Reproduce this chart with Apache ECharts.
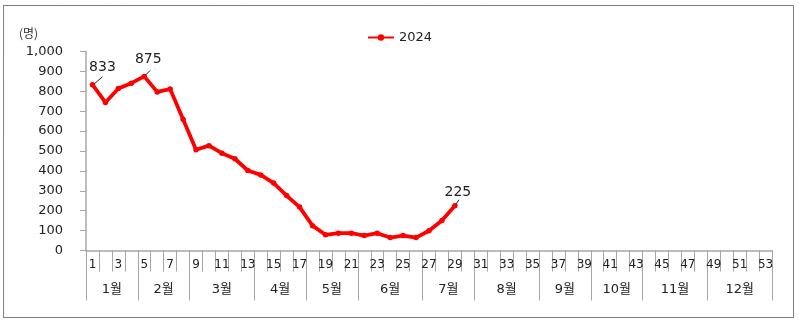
<!DOCTYPE html>
<html><head><meta charset="utf-8">
<script src="https://cdn.jsdelivr.net/npm/echarts@6/dist/echarts.min.js"></script>
<style>html,body{margin:0;padding:0;background:#fff}#c{width:799px;height:322px}</style>
</head><body><div id="c"></div>
<script>
const weeks = Array.from({length:53},(_,i)=>String(i+1));
const seriesName = '2024';
const values2024 = [833,744,814,841,875,797,811,660,506,527,489,461,402,380,339,276,218,125,79,87,87,75,87,65,75,65,99,151,225];
const labeledWeeks = [1,5,29];
const monthNames = ['1월','2월','3월','4월','5월','6월','7월','8월','9월','10월','11월','12월'];
const monthWeekCounts = [4,4,5,4,4,5,4,5,4,4,5,5];
const yTicks = [0,100,200,300,400,500,600,700,800,900,1000];
const unitLabel = '(명)';

const numFont = 'DejaVu Sans, Noto Sans CJK KR, sans-serif';
const boundaries = [0.5]; const centers = [];
monthWeekCounts.forEach(c=>{const s=boundaries[boundaries.length-1]; centers.push(s+c/2); boundaries.push(s+c);});

const chart = echarts.init(document.getElementById('c'));
const labelOffsets = {1:[10,-3],5:[4,-2],29:[3,1]};
const leaderVec = {1:[[2,-1],[10,-8]],5:[[1,-1],[6,-6]],29:[[1,-1],[4,-6]]};
const baseGraphics = [
  {type:'rect',shape:{x:3.5,y:5.5,width:790,height:312},style:{fill:'none',stroke:'#000',lineWidth:1,lineDash:[1,1]}},
  {type:'text',left:19,top:27,style:{text:unitLabel,font:'12px Noto Sans CJK KR',fill:'#333'}}
];
chart.setOption({
  animation:false,
  legend:{data:[seriesName],top:26,left:'center',itemWidth:26,itemHeight:8,itemGap:3,
    textStyle:{fontFamily:numFont,fontSize:13,color:'#222'}},
  graphic:baseGraphics,
  grid:{left:86,right:27,top:51.5,bottom:71.5},
  xAxis:[
    {type:'category',data:weeks,boundaryGap:true,
      axisLine:{lineStyle:{color:'#A6A6A6',width:1.5}},
      axisTick:{show:true,interval:0,length:21,lineStyle:{color:'#A6A6A6'}},
      axisLabel:{interval:1,margin:8,fontFamily:numFont,fontSize:12,color:'#222'}},
    {type:'value',position:'bottom',min:0.5,max:53.5,
      axisLine:{show:false},splitLine:{show:false},
      axisTick:{show:true,length:50,customValues:boundaries,lineStyle:{color:'#A6A6A6'}},
      axisLabel:{show:true,margin:33,customValues:centers,fontFamily:numFont,fontSize:13,color:'#222',
        formatter:v=>{const i=centers.indexOf(v);return i>=0?monthNames[i]:'';}}}
  ],
  yAxis:{type:'value',min:0,max:1000,interval:100,
    axisLine:{show:true,lineStyle:{color:'#A6A6A6',width:1.5}},
    axisTick:{show:true,length:6,lineStyle:{color:'#A6A6A6'}},
    splitLine:{show:false},
    axisLabel:{margin:23,fontFamily:numFont,fontSize:13,color:'#222',
      formatter:v=>v.toLocaleString('en-US')}},
  series:[{name:seriesName,type:'line',xAxisIndex:0,
    data:values2024.map((v,i)=>{
      const w=i+1;
      if(labeledWeeks.includes(w)){
        return {value:v,label:{show:true,position:'top',offset:labelOffsets[w],fontFamily:numFont,fontSize:14,color:'#222'}};
      }
      return v;}),
    symbol:'circle',symbolSize:5.5,
    lineStyle:{color:'#FF0000',width:3.8},
    itemStyle:{color:'#FF0000'},
    label:{show:false},
    z:2
  }]
});
const leaders = labeledWeeks.map(w=>{
  const p = chart.convertToPixel({xAxisIndex:0,yAxisIndex:0},[weeks[w-1],values2024[w-1]]);
  const [a,b] = leaderVec[w];
  return {type:'line',z:10,shape:{x1:p[0]+a[0],y1:p[1]+a[1],x2:p[0]+b[0],y2:p[1]+b[1]},style:{stroke:'#222',lineWidth:1}};
});
chart.setOption({graphic:baseGraphics.concat(leaders)},{replaceMerge:['graphic']});
</script></body></html>
